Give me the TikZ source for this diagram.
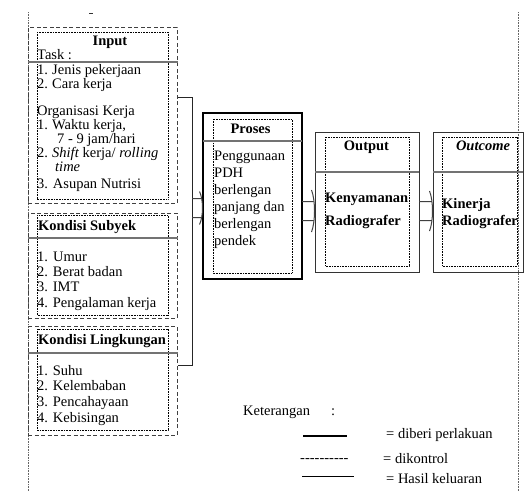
\documentclass[tikz,border=0pt]{standalone}
\usepackage{fontspec}
\setmainfont{Liberation Serif}

\tikzset{
	kotakputus/.style={draw=black!75, line width=0.9pt, dash pattern=on 4pt off 2.5pt, inner sep=0pt, outer sep=0pt},
	kotakgaris/.style={draw=black!80, line width=0.9pt, inner sep=0pt, outer sep=0pt},
	kotaktebal/.style={draw=black, line width=2.5pt, inner sep=0pt, outer sep=0pt},
	kotaktitik/.style={draw=black, line width=0.6pt, dash pattern=on 0.8pt off 0.8pt},
	pemisah/.style={draw=black!55, line width=1.2pt},
	tepi/.style={draw=black!60, line width=0.6pt, dash pattern=on 0.8pt off 0.8pt},
	panah/.style={draw=black!75, line width=1pt},
	teks/.style={anchor=base west, inner sep=0pt, font=\fontsize{14.5}{17}\selectfont},
	judul/.style={anchor=base, inner sep=0pt, font=\fontsize{14.5}{17}\selectfont\bfseries},
}

% panah blok: dari, ke (node), setengah tinggi kepala
\newcommand{\panahblok}[3]{%
	\draw[panah] let \p1=(#1), \p2=(#2.west) in
		(\x1,\y1+9.5pt) -- (\x2-2pt,\y1+9.5pt)
		(\x1,\y1-9.5pt) -- (\x2-2pt,\y1-9.5pt)
		(\x2-3.5pt,\y1+#3) .. controls (\x2+0.5pt,\y1+#3/2) and (\x2+0.5pt,\y1-#3/2) .. (\x2-3.5pt,\y1-#3);
}

\usetikzlibrary{calc}

\begin{document}
\begin{tikzpicture}[x=1pt,y=-1pt]
	\useasboundingbox (0,0) rectangle (527,491);

	% tepi halaman
	\draw[tepi] (28,12) -- (28,491);
	\draw[tepi] (518,12) -- (518,491);
	\draw[black!80, line width=0.8pt] (89,13) -- (93,13);

	% kotak masukan
	\node[kotakputus, minimum width=149pt, minimum height=176pt] (input) at (102.5,115) {};
	\node[kotakputus, minimum width=149pt, minimum height=105pt] (subyek) at (102.5,265.5) {};
	\node[kotakputus, minimum width=149pt, minimum height=109pt] (lingkungan) at (102.5,380.5) {};
	\draw[kotaktitik] (37,32) rectangle (168,199);
	\draw[kotaktitik] (37,215) rectangle (168,315);
	\draw[kotaktitik] (37,329) rectangle (168,430);
	\draw[pemisah] (28,62) -- (178,62);
	\draw[pemisah] (28,238) -- (178,238);
	\draw[pemisah] (28,353) -- (178,353);

	\node[judul] (judulinput) at (110,45) {Input};
	\node[teks] (task) at (37,59) {Task :};
	\node[teks] (in1) at (37,74) {1.};
	\node[teks] (in1t) at (52,74) {Jenis pekerjaan};
	\node[teks] (in2) at (37,88) {2.};
	\node[teks] (in2t) at (52,88) {Cara kerja};
	\node[teks] (org) at (37,115) {Organisasi Kerja};
	\node[teks] (org1) at (37,129) {1.};
	\node[teks] (org1t) at (52,129) {Waktu kerja,};
	\node[teks] (org1b) at (57,143) {7 - 9 jam/hari};
	\node[teks] (org2) at (37,157) {2.};
	\node[teks] (org2t) at (52,157) {\textit{Shift} kerja/ \textit{rolling}};
	\node[teks] (org2b) at (55,171) {\textit{time}};
	\node[teks] (org3) at (37,188) {3. Asupan Nutrisi};

	\node[judul, anchor=base west] (judulsubyek) at (38,230) {Kondisi Subyek};
	\node[teks] (sub1) at (37,261) {1.\hspace{5pt}Umur};
	\node[teks] (sub2) at (37,276) {2. Berat badan};
	\node[teks] (sub3) at (37,291) {3. IMT};
	\node[teks] (sub4) at (37,307) {4. Pengalaman kerja};

	\node[judul, anchor=base west] (judullingkungan) at (38,344) {Kondisi Lingkungan};
	\node[teks] (ling1) at (37,375) {1. Suhu};
	\node[teks] (ling2) at (37,390) {2. Kelembaban};
	\node[teks] (ling3) at (37,406) {3. Pencahayaan};
	\node[teks] (ling4) at (37,422) {4. Kebisingan};

	% kurung penggabung
	\coordinate (kurung) at (192,208);
	\draw[black!85, line width=1pt] (178,97) -- (192,97) -- (192,365) -- (178,365);

	% proses
	\node[kotaktebal, minimum width=99pt, minimum height=166pt] (proses) at (252.5,196) {};
	\draw[kotaktitik] (213,119) rectangle (292,273);
	\draw[pemisah] (203,141) -- (302,141);
	\node[judul] (judulproses) at (250.5,133) {Proses};
	\node[teks] (pr1) at (214,160) {Penggunaan};
	\node[teks] (pr2) at (214,177) {PDH};
	\node[teks] (pr3) at (214,194) {berlengan};
	\node[teks] (pr4) at (214,211) {panjang dan};
	\node[teks] (pr5) at (214,228) {berlengan};
	\node[teks] (pr6) at (214,245) {pendek};

	% output dan outcome
	\node[kotakgaris, minimum width=104pt, minimum height=140pt] (output) at (367,202) {};
	\draw[kotaktitik] (325,137) rectangle (409,266);
	\draw[pemisah] (315,172) -- (419,172);
	\node[judul] (juduloutput) at (366.5,150) {Output};
	\node[judul, anchor=base west] (out1) at (325,202) {Kenyamanan};
	\node[judul, anchor=base west] (out2) at (325,225) {Radiografer};

	\node[kotakgaris, minimum width=90pt, minimum height=140pt] (outcome) at (478,202) {};
	\draw[kotaktitik] (442,137) rectangle (517,266);
	\draw[pemisah] (433,172) -- (523,172);
	\node[judul] (juduloutcome) at (483,150) {\textit{Outcome}};
	\node[judul, anchor=base west] (oc1) at (442,208) {Kinerja};
	\node[judul, anchor=base west] (oc2) at (442,225) {Radiografer};

	% panah
	\coordinate (ujungproses) at (302,211);
	\coordinate (ujungoutput) at (419,211);
	\panahblok{kurung}{proses}{16.5pt}
	\panahblok{ujungproses}{output}{21pt}
	\panahblok{ujungoutput}{outcome}{20pt}

	% keterangan
	\node[teks] (ket) at (243,415) {Keterangan};
	\node[teks] (titikdua) at (331,415) {:};
	\draw[line width=2.5pt] (303,436) -- (347,436);
	\node[teks] (ket1) at (386,438) {= diberi perlakuan};
	\node[teks] (garisputus) at (300,462) {-{}-{}-{}-{}-{}-{}-{}-{}-{}-};
	\node[teks] (ket2) at (383,463) {= dikontrol};
	\draw[line width=1pt] (302,476) -- (354,476);
	\node[teks] (ket3) at (386,483) {= Hasil keluaran};
\end{tikzpicture}
\end{document}
